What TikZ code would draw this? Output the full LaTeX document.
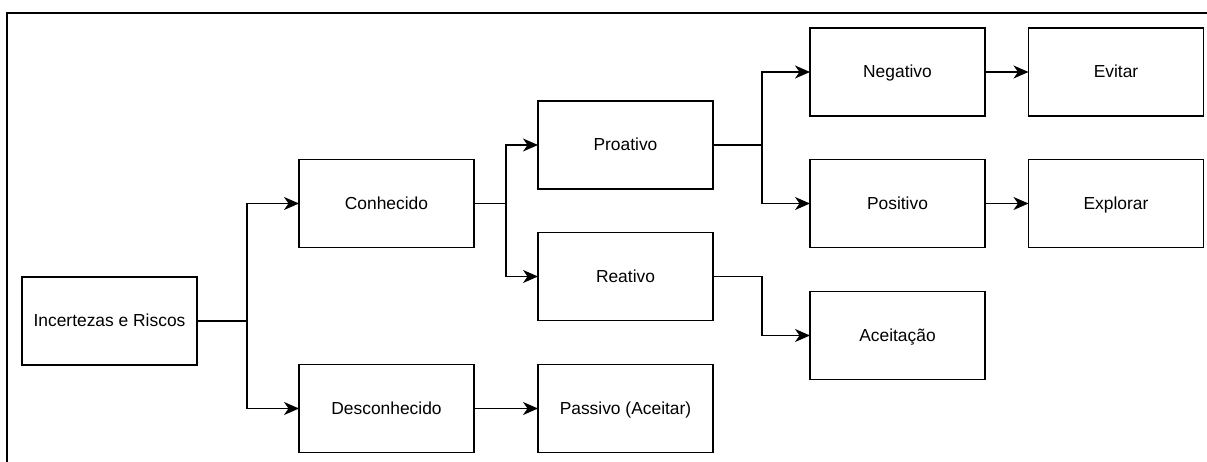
\documentclass[tikz,border=0pt]{standalone}
\usepackage{fontspec}
\setmainfont{Liberation Sans}
\usetikzlibrary{arrows.meta}
\begin{document}
\begin{tikzpicture}[x=1pt,y=-1pt,
  box/.style={draw=black,line width=1.5pt,minimum width=175pt,minimum height=88pt,inner sep=0pt,outer sep=0pt,text height=12.6pt,text depth=1.2pt,font=\fontsize{17.4}{20}\selectfont},
  arr/.style={draw=black,line width=1.5pt,-{Stealth[length=15pt,width=13pt,inset=4.5pt]}}]
\useasboundingbox (0,0) rectangle (1207,462);
\draw[line width=2.2pt,black] (7,462) -- (7,13) -- (1207,13);
\node[box] (inc) at (109.5,321) {Incertezas e Riscos};
\node[box] (con) at (386.5,203.5) {Conhecido};
\node[box] (des) at (386.5,408.5) {Desconhecido};
\node[box] (pro) at (625.5,145) {Proativo};
\node[box] (rea) at (625.5,276.5) {Reativo};
\node[box] (pas) at (625.5,408.5) {Passivo (Aceitar)};
\node[box] (neg) at (897.5,72) {Negativo};
\node[box] (pos) at (897.5,203.5) {Positivo};
\node[box] (ace) at (897.5,335.5) {Aceitação};
\node[box] (evi) at (1116,72) {Evitar};
\node[box] (exp) at (1116,203.5) {Explorar};
\draw[arr] (inc.east) -- ++(50,0) coordinate (j1) |- (con.west);
\draw[arr] (j1) |- (des.west);
\draw[arr] (con.east) -- ++(32,0) coordinate (j2) |- (pro.west);
\draw[arr] (j2) |- (rea.west);
\draw[arr] (pro.east) -- ++(49,0) coordinate (j3) |- (neg.west);
\draw[arr] (j3) |- (pos.west);
\draw[arr] (rea.east) -- ++(49,0) |- (ace.west);
\draw[arr] (des.east) -- (pas.west);
\draw[arr] (neg.east) -- (evi.west);
\draw[arr] (pos.east) -- (exp.west);
\end{tikzpicture}
\end{document}
